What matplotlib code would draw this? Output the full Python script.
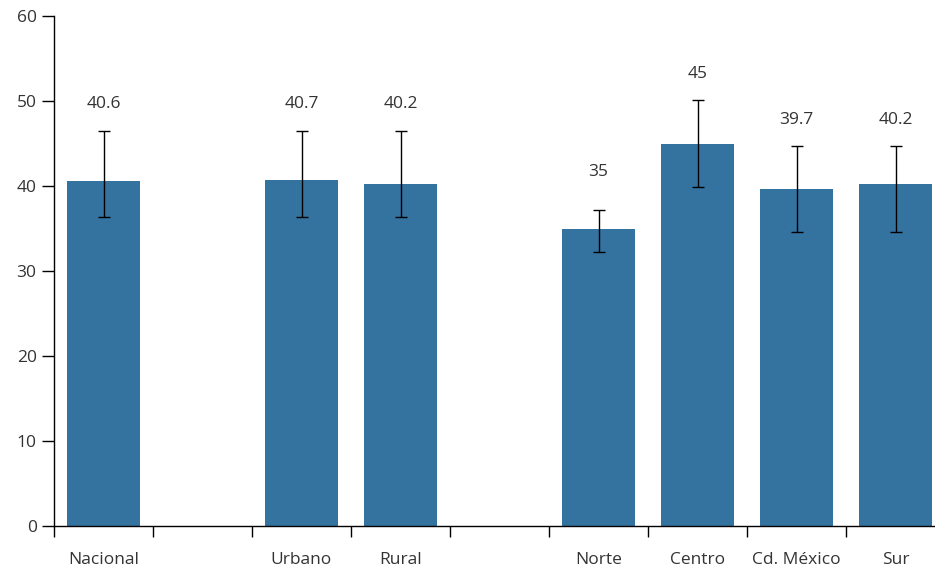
import matplotlib.pyplot as plt
import numpy as np

plt.rcParams['font.family'] = ['Open Sans', 'DejaVu Sans']

# categories ("" = empty gap slot)
categories = ["Nacional", "", "Urbano", "Rural", "", "Norte", "Centro", "Cd. México", "Sur"]
values = [40.6, None, 40.7, 40.2, None, 35, 45, 39.7, 40.2]
err_low = [36.4, None, 36.3, 36.3, None, 32.2, 39.9, 34.6, 34.6]
err_high = [46.5, None, 46.5, 46.5, None, 37.2, 50.1, 44.7, 44.7]
labels = ["40.6", "", "40.7", "40.2", "", "35", "45", "39.7", "40.2"]

bar_color = "#3473a0"
text_color = "#333333"
fs = 12.5

fig = plt.figure(figsize=(9.35, 5.68), dpi=100)
ax = fig.add_axes([54 / 935, 42 / 568, 891 / 935, 510 / 568])

idx = [i for i, v in enumerate(values) if v is not None]
xs = np.array(idx)
vals = np.array([values[i] for i in idx])
lo = np.array([err_low[i] for i in idx])
hi = np.array([err_high[i] for i in idx])

ax.bar(xs, vals, width=0.73, color=bar_color, zorder=2)
ax.errorbar(xs, vals, yerr=[vals - lo, hi - vals], fmt="none",
            ecolor="black", elinewidth=1, capsize=4, capthick=1, zorder=3)

# value labels sit above the error bar
for i, h, v in zip(idx, hi, vals):
    ax.text(i, max(h + 3.1, v + 6.7), labels[i], ha="center", va="center",
            fontsize=fs, color=text_color)

ax.set_xlim(-0.5, 8.5)
ax.set_ylim(0, 60)
ax.set_yticks(np.arange(0, 61, 10))
ax.set_xticks(np.arange(-0.5, 9, 1))
ax.set_xticklabels([])
ax.set_xticks(np.arange(0, 9), minor=True)
ax.set_xticklabels(categories, minor=True)
ax.tick_params(axis="x", which="major", length=8, width=1, color="black")
ax.tick_params(axis="x", which="minor", length=0, pad=19,
               labelsize=fs, labelcolor=text_color)
ax.tick_params(axis="y", length=8.5, width=1, labelsize=fs,
               labelcolor=text_color, pad=4)

for s in ["top", "right"]:
    ax.spines[s].set_visible(False)
ax.spines["left"].set_linewidth(1)
ax.spines["bottom"].set_linewidth(1)

fig.savefig("out.png", dpi=100)
